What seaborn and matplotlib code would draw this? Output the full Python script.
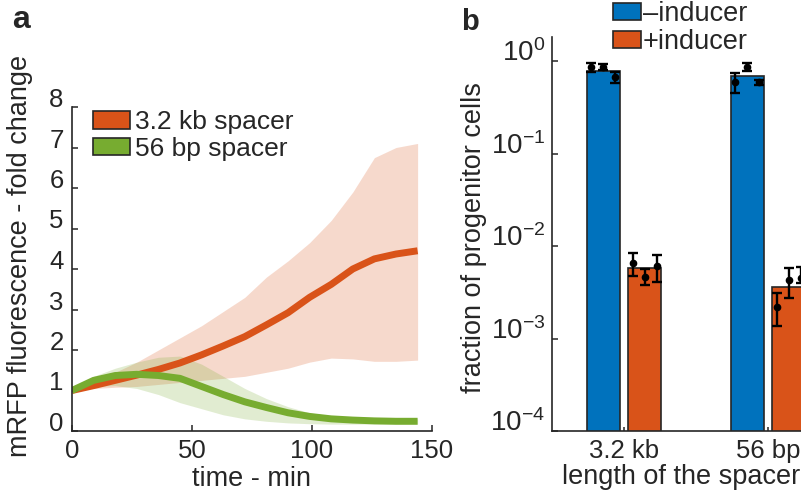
import numpy as np
import pandas as pd
import seaborn as sns
import matplotlib.pyplot as plt
from matplotlib.patches import Patch
from matplotlib.ticker import NullLocator

sns.set_style('ticks')
plt.rcParams['font.family'] = ['Liberation Sans', 'DejaVu Sans']
plt.rcParams['mathtext.fontset'] = 'custom'
plt.rcParams['mathtext.rm'] = 'Liberation Sans'

red = '#D95319'
green = '#77AC30'
blue = '#0072BD'
dark = '#262626'

# panel a: fold change over time (mean and band)
time_min = [0, 9, 18, 27, 36, 45, 54, 63, 72, 81, 90, 99, 108, 117, 126, 135, 144]
kb_mean = [1.0, 1.12, 1.25, 1.38, 1.52, 1.68, 1.88, 2.1, 2.33, 2.62, 2.92, 3.3, 3.62, 4.0, 4.25, 4.37, 4.45]
kb_upper = [1.0, 1.2, 1.45, 1.7, 2.0, 2.3, 2.6, 2.95, 3.3, 3.8, 4.2, 4.65, 5.2, 5.9, 6.75, 7.0, 7.1]
kb_lower = [1.0, 1.05, 1.08, 1.1, 1.15, 1.2, 1.25, 1.3, 1.35, 1.45, 1.55, 1.7, 1.8, 1.78, 1.72, 1.72, 1.75]
bp_mean = [1.0, 1.25, 1.37, 1.4, 1.37, 1.3, 1.1, 0.9, 0.72, 0.58, 0.45, 0.36, 0.3, 0.27, 0.25, 0.24, 0.24]
bp_upper = [1.0, 1.35, 1.55, 1.7, 1.82, 1.85, 1.65, 1.35, 1.05, 0.8, 0.6, 0.45, 0.37, 0.33, 0.3, 0.3, 0.3]
bp_lower = [1.0, 1.1, 1.12, 1.05, 0.9, 0.7, 0.55, 0.4, 0.3, 0.24, 0.2, 0.18, 0.17, 0.17, 0.17, 0.17, 0.17]

# panel b: fraction of progenitor cells
spacers = ['3.2 kb', '56 bp']
inducers = ['\u2013inducer', '+inducer']
bar_values = [[0.785, 0.69], [0.00575, 0.00365]]  # [inducer][spacer]
# replicate points: value, lower, upper  (order: -ind 3.2kb, +ind 3.2kb, -ind 56bp, +ind 56bp)
rep_vals = [[0.86, 0.86, 0.667], [0.0065, 0.00466, 0.00608],
            [0.59, 0.868, 0.59], [0.00221, 0.00429, 0.00455]]
rep_lo = [[0.77, 0.80, 0.58], [0.00474, 0.0038, 0.00411],
          [0.447, 0.785, 0.55], [0.00137, 0.00272, 0.0040]]
rep_hi = [[0.96, 0.93, 0.76], [0.00834, 0.0056, 0.0080],
          [0.747, 0.96, 0.62], [0.00308, 0.00574, 0.0060]]

fig = plt.figure(figsize=(8.01, 4.91), dpi=100)
axa = fig.add_axes([72 / 801, 60 / 491, 360 / 801, 324 / 491])
axb = fig.add_axes([552 / 801, 60 / 491, 288 / 801, 394 / 491])

# ---- panel a
axa.fill_between(time_min, kb_lower, kb_upper, color=red, alpha=0.22, lw=0)
axa.fill_between(time_min, bp_lower, bp_upper, color=green, alpha=0.22, lw=0)
sns.lineplot(x=time_min, y=kb_mean, color=red, lw=5, ax=axa, solid_capstyle='butt')
sns.lineplot(x=time_min, y=bp_mean, color=green, lw=5, ax=axa, solid_capstyle='butt')
axa.set_xlim(0, 150)
axa.set_ylim(0, 8)
axa.set_xticks([0, 50, 100, 150])
axa.set_yticks(range(9))
axa.set_xlabel('time - min', fontsize=19.5, color=dark, labelpad=2)
axa.set_ylabel('mRFP fluorescence - fold change', fontsize=19.5, color=dark)
axa.yaxis.set_label_coords(-0.108, 0.54)
handles = [Patch(facecolor=red, edgecolor=dark, lw=1.2), Patch(facecolor=green, edgecolor=dark, lw=1.2)]
axa.legend(handles, ['3.2 kb spacer', '56 bp spacer'], loc='upper left',
           bbox_to_anchor=(0.058, 0.99), frameon=False, fontsize=19,
           handlelength=1.4, handleheight=0.62, handletextpad=0.2,
           labelspacing=0.1, borderpad=0, borderaxespad=0)

# ---- panel b
axb.set_yscale('log')
df = pd.DataFrame({
    'spacer': spacers * 2,
    'inducer': [inducers[0]] * 2 + [inducers[1]] * 2,
    'fraction': bar_values[0] + bar_values[1],
})
sns.barplot(data=df, x='spacer', y='fraction', hue='inducer', hue_order=inducers,
            palette=[blue, red], saturation=1, width=0.58, gap=0.21,
            edgecolor=dark, linewidth=1.2, errorbar=None, legend=False, ax=axb)

bars = sorted([p for p in axb.patches if p.get_width() > 0], key=lambda p: p.get_x())
for bar, v, lo, hi in zip(bars, rep_vals, rep_lo, rep_hi):
    cx = bar.get_x() + bar.get_width() / 2
    xs = cx + np.array([-0.083, 0, 0.083])
    v = np.array(v)
    yerr = [v - np.array(lo), np.array(hi) - v]
    axb.errorbar(xs, v, yerr=yerr, fmt='o', color='black', ms=4.5, capsize=3.5,
                 elinewidth=1.7, capthick=1.7)

axb.set_xlim(-0.5, 1.5)
axb.set_ylim(1e-4, 1.82)
axb.set_yticks([1e-4, 1e-3, 1e-2, 1e-1, 1])
axb.set_yticklabels([r'$\mathregular{10^{-4}}$', r'$\mathregular{10^{-3}}$',
                     r'$\mathregular{10^{-2}}$', r'$\mathregular{10^{-1}}$',
                     r'$\mathregular{10^{0}}$'])
axb.yaxis.set_minor_locator(NullLocator())
axb.set_xlabel('length of the spacer', fontsize=19.5, color=dark, labelpad=2)
axb.xaxis.set_label_coords(0.448, -0.085)
axb.set_ylabel('fraction of progenitor cells', fontsize=19.5, color=dark)
axb.yaxis.set_label_coords(-0.226, 0.49)
hb = [Patch(facecolor=blue, edgecolor=dark, lw=1.2), Patch(facecolor=red, edgecolor=dark, lw=1.2)]
axb.legend(hb, inducers, loc='upper left', bbox_to_anchor=(613 / 801, 0.998),
           bbox_transform=fig.transFigure, frameon=False, fontsize=19.5,
           handlelength=1.05, handleheight=0.58, handletextpad=0.05,
           labelspacing=0.08, borderpad=0, borderaxespad=0)

for ax in (axa, axb):
    sns.despine(ax=ax)
    for s in ('left', 'bottom'):
        ax.spines[s].set_linewidth(1.2)
        ax.spines[s].set_color(dark)
    ax.tick_params(direction='in', length=4, width=1.1, color=dark,
                   labelsize=18.5, labelcolor=dark, pad=6)
    for t in ax.get_yticklabels():
        t.set_va('baseline')
axb.tick_params(axis='y', labelsize=20, pad=5)
axb.tick_params(axis='x', length=3)

fig.text(12 / 801, 1 - 28 / 491, 'a', fontsize=23, fontweight='bold', va='baseline')
fig.text(461 / 801, 1 - 30 / 491, 'b', fontsize=21, fontweight='bold', va='baseline')

fig.savefig('out.png', dpi=100)
